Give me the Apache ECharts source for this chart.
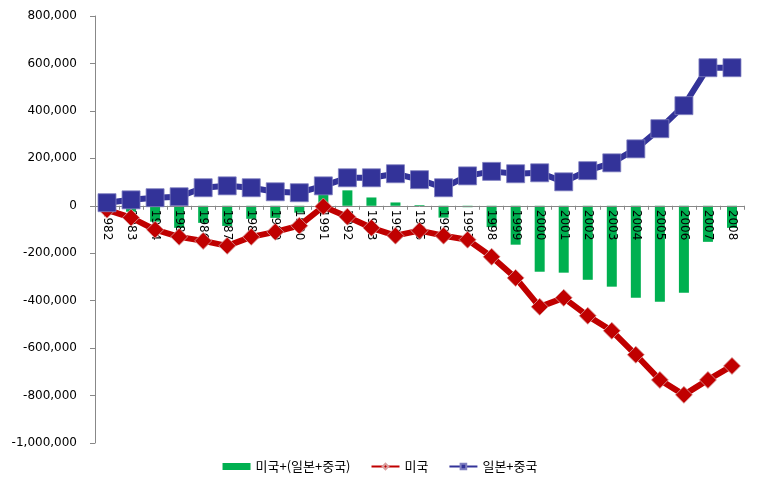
<!DOCTYPE html>
<html>
<head>
<meta charset="utf-8">
<script src="https://cdn.jsdelivr.net/npm/echarts@6/dist/echarts.min.js"></script>
<style>html,body{margin:0;padding:0;background:#fff}#c{width:760px;height:490px}</style>
</head>
<body>
<div id="c"></div>
<script>
var years = ['1982','1983','1984','1985','1986','1987','1988','1989','1990','1991','1992','1993','1994','1995','1996','1997','1998','1999','2000','2001','2002','2003','2004','2005','2006','2007','2008'];
var sumVals = [-4000,-25000,-67000,-93000,-72000,-85000,-55000,-51000,-29000,81000,65000,35000,14000,3000,-50000,-6000,-90000,-164000,-278000,-282000,-312000,-341000,-388000,-405000,-367000,-152000,-93000];
var usVals = [-17000,-50000,-101000,-131000,-148000,-169000,-131000,-110000,-84000,-3000,-46000,-93000,-126000,-105000,-126000,-143000,-215000,-304000,-426000,-388000,-464000,-527000,-628000,-734000,-797000,-734000,-675000];
var jcVals = [13000,25000,34000,38000,76000,84000,76000,59000,55000,84000,118000,118000,135000,110000,76000,126000,145000,135000,139000,101000,148000,181000,240000,325000,422000,582000,582000];
var seriesNames = ['미국+(일본+중국)','미국','일본+중국'];
var yMin = -1000000, yMax = 800000, yStep = 200000;

var plotTop = 16, plotBottomGap = 47, H = 490;
var plotH = H - plotTop - plotBottomGap;
var zeroToBottom = plotH * (-yMin / (yMax - yMin));

var chart = echarts.init(document.getElementById('c'), null, {renderer:'canvas'});
chart.setOption({
  animation: false,
  textStyle: {fontFamily: '"Noto Sans CJK KR", "DejaVu Sans", sans-serif'},
  grid: {left: 95, right: 16, top: plotTop, bottom: plotBottomGap},
  legend: {
    bottom: 12, left: 'center', itemGap: 20, itemWidth: 28, itemHeight: 7,
    textStyle: {fontSize: 13, color: '#000', fontFamily: '"Noto Sans CJK KR", sans-serif'},
    data: [{name: seriesNames[0], icon: 'rect'}, {name: seriesNames[1]}, {name: seriesNames[2]}]
  },
  xAxis: {
    type: 'category', data: years, z: 3,
    axisLine: {onZero: true, lineStyle: {color: '#888', width: 1}},
    axisTick: {show: true, length: 4, inside: false, lineStyle: {color: '#888'}},
    axisLabel: {rotate: -90, margin: 4 - zeroToBottom, fontSize: 12, color: '#000', fontFamily: '"DejaVu Sans", sans-serif', interval: 0}
  },
  yAxis: {
    type: 'value', min: yMin, max: yMax, interval: yStep,
    splitLine: {show: false},
    axisLine: {show: true, lineStyle: {color: '#888'}},
    axisTick: {show: true, length: 5, lineStyle: {color: '#888'}},
    axisLabel: {margin: 18, fontSize: 12, color: '#000', fontFamily: '"DejaVu Sans", sans-serif',
      formatter: function(v){ return v.toLocaleString('en-US'); }}
  },
  series: [
    {name: seriesNames[0], type: 'bar', data: sumVals, barWidth: 10, z: 2,
     itemStyle: {color: '#00B050'}},
    {name: seriesNames[1], type: 'line', data: usVals, z: 5, showAllSymbol: true,
     symbol: 'diamond', symbolSize: 17,
     lineStyle: {color: '#C00000', width: 6},
     itemStyle: {color: '#C00000', borderColor: '#d9a0a0', borderWidth: 0.8}},
    {name: seriesNames[2], type: 'line', data: jcVals, z: 6, showAllSymbol: true,
     symbol: 'rect', symbolSize: 18,
     lineStyle: {color: '#333399', width: 6},
     itemStyle: {color: '#333399', borderColor: '#8080c0', borderWidth: 0.8}}
  ]
});
</script>
</body>
</html>
